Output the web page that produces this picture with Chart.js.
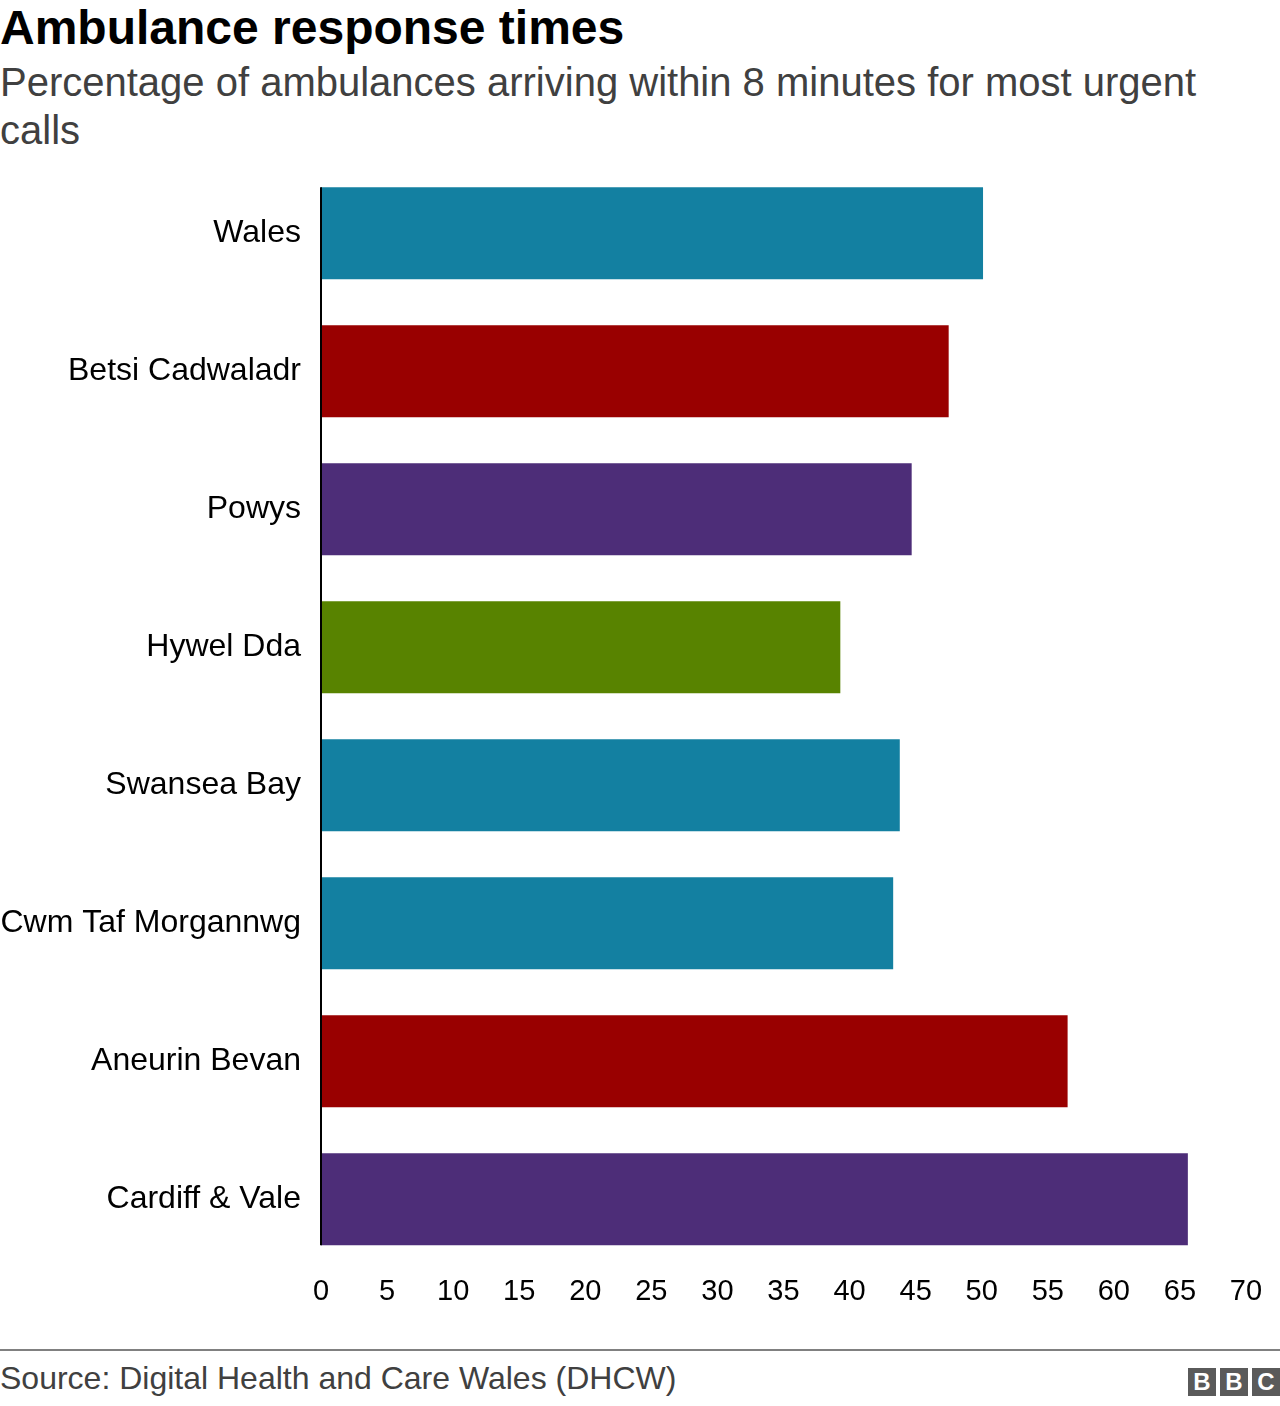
<!DOCTYPE html>
<html>
<head>
<meta charset="utf-8">
<script src="https://cdn.jsdelivr.net/npm/chart.js@4"></script>
<style>
  body { margin: 0; width: 1280px; height: 1406px; background: #fff; font-family: "Liberation Sans", Arial, sans-serif; position: relative; overflow: hidden; }
  #title { position: absolute; left: 0; top: 0px; font-size: 48px; line-height: 56px; font-weight: bold; color: #000; }
  #subtitle { position: absolute; left: 0; top: 58px; width: 1240px; font-size: 40px; line-height: 48px; color: #404040; }
  #chartBox { position: absolute; left: 0; top: 125px; width: 1280px; height: 1200px; }
  #rule { position: absolute; left: 0; top: 1349px; width: 1280px; height: 2px; background: #808080; }
  #source { position: absolute; left: 0; top: 1360px; font-size: 32px; color: #404040; }
  #logo { position: absolute; right: 0; top: 1368px; display: flex; gap: 4px; }
  #logo div { width: 28px; height: 28px; background: #5a5a5a; color: #fff; font-weight: bold; font-size: 24px; line-height: 28px; text-align: center; }
</style>
</head>
<body>
<div id="title">Ambulance response times</div>
<div id="subtitle">Percentage of ambulances arriving within 8 minutes for most urgent calls</div>
<div id="chartBox"><canvas id="responseChart"></canvas></div>
<div id="rule"></div>
<div id="source">Source: Digital Health and Care Wales (DHCW)</div>
<div id="logo"><div>B</div><div>B</div><div>C</div></div>
<script>
// Data
const regions = ['Wales', 'Betsi Cadwaladr', 'Powys', 'Hywel Dda', 'Swansea Bay', 'Cwm Taf Morgannwg', 'Aneurin Bevan', 'Cardiff & Vale'];
const within8Min = [50.1, 47.5, 44.7, 39.3, 43.8, 43.3, 56.5, 65.6];
const barColours = ['#1380A1', '#990000', '#4D2D78', '#588300', '#1380A1', '#1380A1', '#990000', '#4D2D78'];
const xTicks = [0, 5, 10, 15, 20, 25, 30, 35, 40, 45, 50, 55, 60, 65, 70];

// black axis line only spanning the bars
const axisLine = {
    id: 'axisLine',
    afterDatasetsDraw(chart) {
        const bars = chart.getDatasetMeta(0).data;
        const first = bars[0], last = bars[bars.length - 1];
        const x = chart.scales.x.getPixelForValue(0);
        const c = chart.ctx;
        c.save();
        c.strokeStyle = '#000';
        c.lineWidth = 2;
        c.beginPath();
        c.moveTo(x, first.y - first.height / 2);
        c.lineTo(x, last.y + last.height / 2);
        c.stroke();
        c.restore();
    }
};

const ctx = document.getElementById('responseChart').getContext('2d');
const responseChart = new Chart(ctx, {
    type: 'bar',
    data: {
        labels: regions,
        datasets: [{
            data: within8Min,
            backgroundColor: barColours,
            barPercentage: 0.667,
            categoryPercentage: 1
        }]
    },
    options: {
        indexAxis: 'y',
        responsive: true,
        maintainAspectRatio: false,
        animation: false,
        layout: { padding: { top: 4, right: 34, bottom: 10, left: 0 } },
        plugins: {
            legend: { display: false },
            tooltip: { enabled: false }
        },
        scales: {
            x: {
                min: 0,
                max: 70,
                afterBuildTicks: (scale) => { scale.ticks = xTicks.map(v => ({ value: v })); },
                grid: { display: false, drawTicks: false },
                border: { display: false },
                ticks: {
                    color: '#000',
                    padding: 6,
                    font: { family: '"Liberation Sans", Arial, sans-serif', size: 29 }
                }
            },
            y: {
                grid: { display: false, drawTicks: false },
                border: { display: false },
                afterFit: (scale) => { scale.width = 321; },
                ticks: {
                    color: '#000',
                    padding: 20,
                    font: { family: '"Liberation Sans", Arial, sans-serif', size: 32 }
                }
            }
        }
    },
    plugins: [axisLine]
});
</script>
</body>
</html>
